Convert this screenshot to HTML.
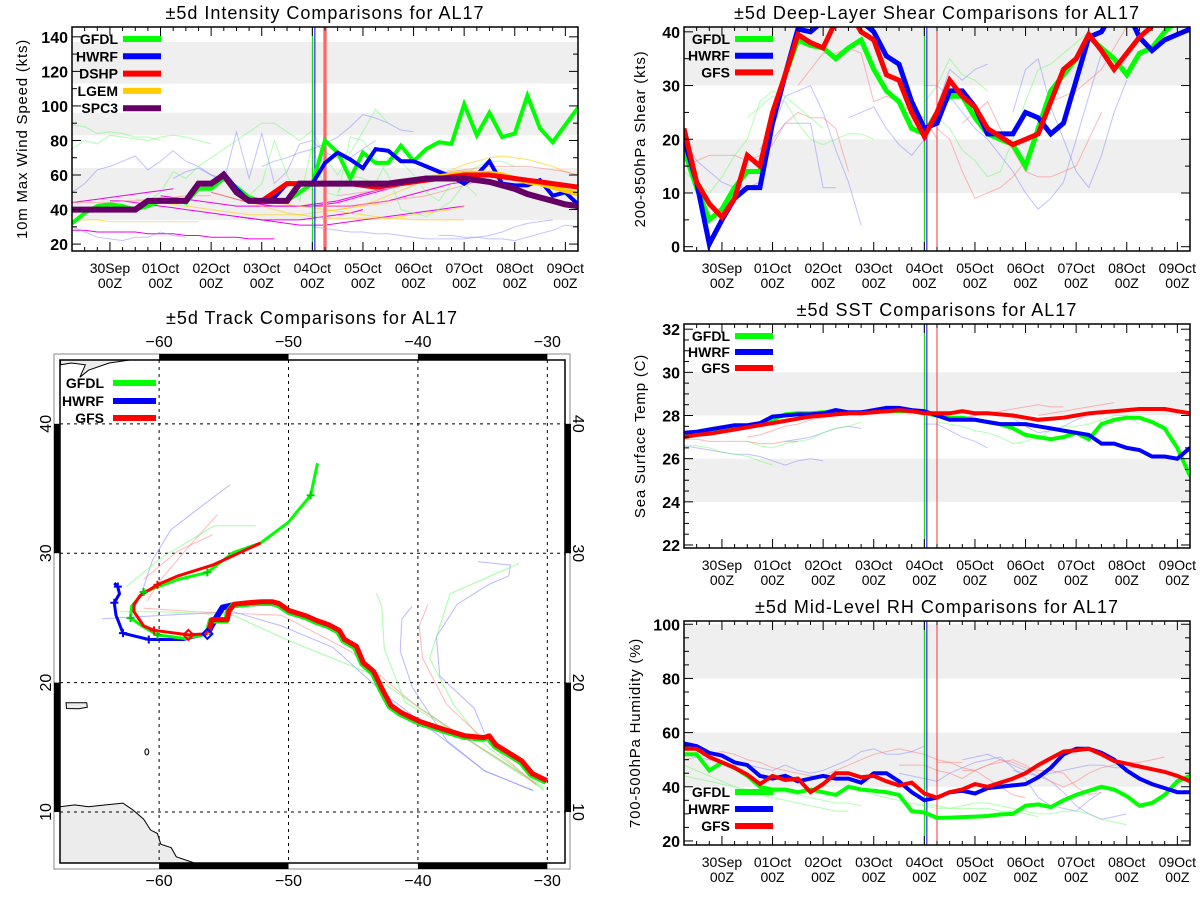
<!DOCTYPE html>
<html><head><meta charset="utf-8"><style>
html,body{margin:0;padding:0;background:#fff;}
svg{display:block;font-family:"Liberation Sans",sans-serif;}
</style></head><body>
<svg id="chart" width="1200" height="900" viewBox="0 0 1200 900" xmlns="http://www.w3.org/2000/svg"></svg>
<script>
// ---------- time grid: index i -> t = -0.75 + 0.25*i (days from 30Sep 00Z)
const dateLabels = ["30Sep","01Oct","02Oct","03Oct","04Oct","05Oct","06Oct","07Oct","08Oct","09Oct"];
// Intensity (kts)
const intTicks = [20,40,60,80,100,120,140];
const intGFDL = [32,38,42,43,42,40,42,45,46,44,52,52,58,53,47,45,45,45,50,55,80,73,58,73,67,67,77,68,75,79,78,101,83,96,82,84,106,87,79,89,99];
const intHWRF = [40,40,40,40,40,40,45,45,45,45,55,55,61,52,45,45,47,55,55,55,67,73,69,64,75,74,68,68,65,62,59,55,60,68,55,54,54,57,48,50,43];
const intDSHP = [40,40,40,40,40,40,45,45,45,45,55,55,60,50,45,45,50,55,55,55,55,55,55,54,53,54,55,56,57,58,59,60,60,60,59,58,57,56,55,54,53];
const intLGEM = [40,40,40,40,40,40,45,45,45,45,55,55,60,50,45,45,45,45,55,55,55,55,55,55,55,55,56,57,58,59,60,61,61,61,60,58,56,55,53,51,49];
const intSPC3 = [40,40,40,40,40,40,45,45,45,45,55,55,60,50,45,45,45,45,55,55,55,55,55,55,55,55,56,57,58,58,58,58,57,56,54,52,49,47,45,43,42];
const intThin = [
 {c:"#ee00ee",o:1,s:0,v:[44,45,46,47,48,49,50,51,52]},
 {c:"#ee00ee",o:1,s:3,v:[45,45,44,43,42,41,40,39,38,37,36,35,34,34,34,34,35,36,37,38,40]},
 {c:"#ee00ee",o:1,s:7,v:[48,47,46,45,44,43,42,42,42,42,42,42,43,44,45,47,49,51,53,55,56]},
 {c:"#ee00ee",o:1,s:11,v:[50,48,46,44,43,42,42,42,42,43,44,46,48,50,52,54,55,56,57,57,57]},
 {c:"#ee00ee",o:1,s:0,v:[28,28,27,27,27,27,26,26,26,25,25,24,24,24,23,23,23]},
 {c:"#ee00ee",o:1,s:13,v:[36,35,34,33,32,31,31,31,32,33,34,35,36,37,38,39,40,41,42]},
 {c:"#ee00ee",o:1,s:19,v:[42,42,42,42,43,44,45,47,49,51,53,55,56,56,56,55,54]},
 {c:"#ffcc00",o:.6,s:0,v:[34,34,34,33,33,33,33,33,33,33,33]},
 {c:"#ffcc00",o:.6,s:5,v:[46,45,44,43,42,41,40,39,38,37,37,37,37,37,38,39,40,41,42,43,44]},
 {c:"#ffcc00",o:.6,s:21,v:[40,41,43,45,48,51,54,57,60,63,66,68,70,71,70,69,67,65,62,60]},
 {c:"#ffcc00",o:.6,s:11,v:[50,48,46,44,42,40,38,37,36,35,35,35,35,35,35,36,37,38,39,40,42]},
 {c:"#ffcc00",o:.6,s:15,v:[45,44,43,42,41,40,39,38,37,36,35,35,34,34,34,34,34]},
 {c:"#ff8888",o:.6,s:21,v:[48,49,50,51,52,54,56,58,60,62,63,64,65,65,65,65,64,63,62,60]},
 {c:"#ff8888",o:.6,s:0,v:[44,44,44,44,45,45,46,47,47,48,48,48]},
 {c:"#ff8888",o:.6,s:19,v:[42,42,42,42,43,44,45,46,47,48,50,52,54,56,57,57,57,56,55,54]},
 {c:"#8888ff",o:.5,s:0,v:[50,55,63,65,68,71,63,68,74,68,65,60,58]},
 {c:"#8888ff",o:.5,s:0,v:[30,27,24,23,22,24,24,27,25,24]},
 {c:"#8888ff",o:.5,s:8,v:[58,62,64,60,56,85,58,84,55,62,78,80,73,70,70,75,80]},
 {c:"#8888ff",o:.5,s:15,v:[65,68,70,73,75,78,82,88,95,93,90,86,85]},
 {c:"#8888ff",o:.5,s:19,v:[30,29,28,27,27,26,26,25,24,23,23,23,23,24,25,27,30,32,33,34]},
 {c:"#8888ff",o:.5,s:29,v:[25,25,24,24,23,23,22,24,26,28,31,30]},
 {c:"#66ff66",o:.5,s:0,v:[75,80,78,83,82,81,80,82,83,82,80,78]},
 {c:"#66ff66",o:.5,s:0,v:[89,88,84,85,84,82,82,80]},
 {c:"#66ff66",o:.5,s:6,v:[45,50,62,58,65,70,75,80,85,90,90,85,80,86,70,60,73,85,98,90]},
 {c:"#66ff66",o:.5,s:14,v:[48,55,80,60,45,78,50,48,82,80,70,60,40,38,36,40,45,55,48]},
 {c:"#66ff66",o:.5,s:21,v:[50,60,58,55,70,68,60,50,45,55,60,65,68,68,65]}
];
// Shear (kts)
const shrTicks = [0,10,20,30,40];
const shrGFDL = [18,11,5,7,11,14,14,24,32,38.5,37.5,37,35,37,38.5,33,29,27,22,21,25,28,28,24,21,20,19,15,22,29,32,35,39,37,35,32,36,37,40,42,43];
const shrHWRF = [20,12,0.5,5,9,11,11,23,32,40.5,40,42,44,44,42,40,35.5,34,27,22,23,29,29,26,21,21,21,25,24,21,23,31,39,40,44,44,39,36.5,38.5,39.5,40.5];
const shrGFS  = [22,12,8,5.5,9,17,15,25,32,39.5,38,37,42,44,40,38.5,32,31,25,20.5,25,31,28,26,22,20.5,19,20,21,27,33,35,39.5,36.5,33,36,39,41,null,null,null];
const shrThin = [
 {c:"#8888ff",o:.5,s:0,v:[20,16,14,12,11,11,12,20,23,23,23,11,11]},
 {c:"#8888ff",o:.5,s:6,v:[18,22,28,29,30,25,18,12,4]},
 {c:"#8888ff",o:.5,s:13,v:[24,25,26,22,19,17,20]},
 {c:"#8888ff",o:.5,s:19,v:[30,30,28,25,22,20,17,14,10,7,9,12,20,28,36,34]},
 {c:"#8888ff",o:.5,s:26,v:[25,33,35,26,20,14,11,17,25,31]},
 {c:"#8888ff",o:.5,s:20,v:[26,33,31,33,34]},
 {c:"#66ff66",o:.5,s:0,v:[14,12,10,13,17,20,27,29,28,26,24,22]},
 {c:"#66ff66",o:.5,s:5,v:[24,26,28,27,23,20,19,20,21,21,20]},
 {c:"#66ff66",o:.5,s:19,v:[27,30,35,32,31,29]},
 {c:"#66ff66",o:.5,s:20,v:[24,22,18,16,13,14,20,27,33,34,36,38,40]},
 {c:"#ff8888",o:.6,s:0,v:[15,16,17,17,17,16,17,19,23,25,24,24,22,14]},
 {c:"#ff8888",o:.6,s:9,v:[30,33,36,36,37,36,27,28,27,25,24,20]},
 {c:"#ff8888",o:.6,s:20,v:[22,20,14,9,10,11,13,16,22,27,28,29,31,33,37,41]},
 {c:"#ff8888",o:.6,s:22,v:[23,25,27,22,18,14,13,13,14,15,20,25]}
];
// SST (C)
const sstTicks = [22,24,26,28,30,32];
const sstGFDL = [27.0,27.1,27.2,27.3,27.4,27.5,27.6,27.8,28.05,28.1,28.1,28.15,28.15,28.1,28.1,28.2,28.2,28.2,28.2,28.1,28.0,27.9,27.9,27.8,27.7,27.6,27.4,27.1,27.0,26.9,27.0,27.2,26.9,27.6,27.8,27.9,27.9,27.7,27.4,26.5,25.2];
const sstHWRF = [27.2,27.25,27.35,27.45,27.55,27.55,27.65,27.95,28.0,28.05,28.05,28.1,28.25,28.15,28.15,28.25,28.35,28.35,28.25,28.2,28.0,27.8,27.8,27.8,27.7,27.6,27.6,27.6,27.5,27.4,27.3,27.2,27.1,26.7,26.7,26.5,26.4,26.1,26.1,26.0,26.5];
const sstGFS  = [27.0,27.1,27.15,27.25,27.35,27.45,27.55,27.65,27.75,27.85,27.95,28.0,28.05,28.1,28.1,28.15,28.2,28.25,28.2,28.1,28.1,28.1,28.2,28.1,28.1,28.05,28.0,27.9,27.8,27.85,27.9,28.0,28.1,28.15,28.2,28.25,28.3,28.3,28.3,28.2,28.1];
const sstThin = [
 {c:"#8888ff",o:.5,s:0,v:[26.6,26.5,26.4,26.3,26.2,26.2,26.1,25.9,25.7,25.9,26.0,25.9]},
 {c:"#8888ff",o:.5,s:8,v:[26.8,26.9,27.0,27.2,27.4,27.5,27.4]},
 {c:"#8888ff",o:.5,s:19,v:[27.6,27.6,27.3,27.0,26.8,26.5]},
 {c:"#8888ff",o:.5,s:22,v:[27.8,28.0,28.1,28.1,27.9,27.5,27.2,27.3,27.5,27.8,28.0,28.1,28.2]},
 {c:"#66ff66",o:.5,s:0,v:[26.6,26.6,26.5,26.3,26.2,26.1,25.9,25.7]},
 {c:"#66ff66",o:.5,s:5,v:[26.8,26.6,26.5,26.7,26.8,26.9,27.2,27.4,27.5,27.7]},
 {c:"#66ff66",o:.5,s:20,v:[27.7,27.6,27.5,27.3,27.2,27.0,26.7,26.8,27.0,27.3,27.5,27.5,27.6,27.8,28.0,28.0,27.6]},
 {c:"#ff8888",o:.6,s:0,v:[26.9,26.9,26.8,26.8,26.8,26.8,26.7,26.7,26.8,26.8]},
 {c:"#ff8888",o:.6,s:5,v:[27.0,27.1,27.3,27.5,27.6,27.8,27.9,28.0,28.0]},
 {c:"#ff8888",o:.6,s:21,v:[27.8,27.9,28.0,28.1,28.2,28.3,28.4,28.5,28.4,28.4]},
 {c:"#ff8888",o:.6,s:28,v:[28.0,28.1,28.2,28.3,28.4,28.5,28.6]}
];
// RH (%)
const rhTicks = [20,40,60,80,100];
const rhGFDL = [52,52,46,49,47,44,40,39,39,38,39,38,37,40,39,38.5,38,37,31,30.5,28.5,28.6,28.8,29,29.2,29.8,30,33,33.5,32.5,35,37,38.5,40,39,36.5,33,34,37,42,44];
const rhHWRF = [56,55,52.5,51.5,49,48,44,43,44,42,43,44,43,43,41.5,45,45,42,38,35,36,38,38.5,37.5,39.5,40,40.5,41,43.5,47,52,54,54,52.5,50,46,43,41,39.5,38,38];
const rhGFS  = [54,54,51,49,47,44.5,41,44,42.5,43,38,41,45,45,43.5,44,42,40.5,41.5,37.5,36,38,39,41,40,41.5,43,45,48,50.5,53,53.5,54,52,49.5,48.5,47.5,46.5,45.5,44,42];
const rhThin = [
 {c:"#8888ff",o:.5,s:0,v:[52,51,50,49,48,48,47,46,48,46,45,46,48,50,53,54,52,52,53,55]},
 {c:"#8888ff",o:.5,s:17,v:[45,44,43,42,45,47,49,50,51,47,43,36,33,32,31,35,38]},
 {c:"#8888ff",o:.5,s:22,v:[50,51,52,50,48,46,44,42,38,33,30,28,29,30]},
 {c:"#8888ff",o:.5,s:26,v:[46,45,44,45,46,47,48,48,47,47,47]},
 {c:"#66ff66",o:.5,s:0,v:[48,46,44,42,40,38,37,36,35,34,33,32,31,31]},
 {c:"#66ff66",o:.5,s:0,v:[44,43,42,41,40,39,38,38,38,37,36,35,34,34,33]},
 {c:"#66ff66",o:.5,s:13,v:[40,39,37,36,35,34,33,32,32,32,32,32,31,31,30,29]},
 {c:"#66ff66",o:.5,s:19,v:[34,33,32,33,34,34,33,32,31,30,30,31,31,30,28,27,26]},
 {c:"#ff8888",o:.6,s:0,v:[50,51,52,53,52,50,49,47,46,45,44,44,46,48,50,52,53,54,53,52,50,49,49]},
 {c:"#ff8888",o:.6,s:17,v:[48,48,48,46,45,43,46,48,50,49,47,46,46,45,40,37,38]},
 {c:"#ff8888",o:.6,s:22,v:[46,46,48,49,50,48,45,42,40,42,45,47,48,49,49,50,51]},
 {c:"#ff8888",o:.6,s:20,v:[49,49,47,46,43,40,37,36]}
];
// Track (lon, lat)
const trkLonTicks = [-60,-50,-40,-30];
const trkLatTicks = [10,20,30,40];
const trkHistory = [[-30.11,12.35],[-31.25,12.9],[-32.05,13.87],[-34.05,15.11],[-34.58,15.81],[-34.98,15.67],[-36.44,15.81],[-38.04,16.3],[-39.9,16.91],[-41.37,17.6],[-42.17,18.16],[-42.83,19.4],[-43.5,20.78],[-44.3,21.47],[-44.83,22.72],[-45.76,23.27],[-46.16,23.96],[-46.96,24.38],[-47.89,24.71],[-48.69,25.07],[-50.02,25.48],[-50.82,26.04],[-51.35,26.17],[-52.15,26.17],[-53.21,26.09],[-54.28,25.98],[-54.68,25.48],[-54.81,24.79],[-56.01,24.79],[-56.27,23.77]];
const trkHistoryBlue = [[-30.11,12.35],[-31.25,12.9],[-32.05,13.87],[-34.05,15.11],[-34.58,15.81],[-34.98,15.67],[-36.44,15.81],[-38.04,16.3],[-39.9,16.91],[-41.37,17.6],[-42.17,18.16],[-42.83,19.4],[-43.5,20.78],[-44.3,21.47],[-44.83,22.72],[-45.76,23.27],[-46.16,23.96],[-46.96,24.38],[-47.89,24.71],[-48.69,25.07],[-50.02,25.48],[-50.82,26.04],[-51.35,26.17],[-52.15,26.17],[-53.21,26.09],[-54.28,25.98],[-55.1,25.8],[-55.6,25.0],[-56.0,24.3],[-56.27,23.77]];
const trkGFS = [[-56.27,23.77],[-57.74,23.69],[-60.4,24.04],[-61.2,24.38],[-61.94,25.48],[-61.94,26.04],[-61.46,26.73],[-60.13,27.56],[-58.54,28.25],[-55.87,29.08],[-52.15,30.79]];
const trkGFDL = [[-56.27,23.77],[-58.0,23.41],[-60.13,23.69],[-61.33,24.38],[-62.21,24.99],[-62.13,25.9],[-61.2,27.0],[-58.54,27.97],[-56.27,28.52],[-54.28,30.04],[-52.15,30.79],[-50.02,32.39],[-48.29,34.47],[-47.76,36.96]];
const trkHWRF = [[-56.27,23.77],[-58.14,23.33],[-60.8,23.33],[-62.79,23.82],[-63.33,25.21],[-63.46,26.17],[-63.06,26.86],[-63.19,27.42],[-63.46,27.69]];
const trkThin = [
 {c:"#8888ff",p:[[-62,25.5],[-61.2,27.4],[-60.5,29.5],[-59.1,31.8],[-56.5,33.8],[-54.5,35.3]]},
 {c:"#8888ff",p:[[-31.1,11.66],[-34.85,13.18],[-37.77,15.53],[-40.44,19.68],[-41.37,22.44],[-41.24,24.93],[-40.44,25.9]]},
 {c:"#8888ff",p:[[-34.85,16.08],[-35.65,18.02],[-38.31,20.5],[-38.57,23.55],[-36.98,26.04],[-34.58,27.56],[-32.98,28.25],[-32.85,29.08],[-35.38,29.35]]},
 {c:"#8888ff",p:[[-31.1,11.66],[-34.85,13.18],[-42.57,19.12],[-46.56,22.72],[-50.55,24.38],[-54.28,25.48],[-59.6,25.21],[-64.4,24.93]]},
 {c:"#66ff66",p:[[-30.26,11.66],[-34.85,15.25],[-37.24,18.29],[-39.1,21.89],[-37.51,26.86],[-32.19,29.21]]},
 {c:"#66ff66",p:[[-30.3,11.8],[-33,13.5],[-36.5,15.8],[-41,18.5],[-42.6,22.6],[-42.8,25.9],[-43.2,26.9]]},
 {c:"#66ff66",p:[[-30.3,11.94],[-37.77,16.64],[-43.9,20.78],[-50.02,23.27],[-54.28,25.21],[-59.6,25.48],[-63.06,25.48]]},
 {c:"#66ff66",p:[[-62.53,27.42],[-59.87,29.63],[-55.74,32.12],[-52.55,32.12]]},
 {c:"#ff8888",p:[[-30.85,12.07],[-35.11,15.81],[-37.77,18.29],[-39.64,21.89],[-39.9,24.38],[-39.24,26.04]]},
 {c:"#ff8888",p:[[-30.85,12.2],[-39.9,18.02],[-45.23,22.44],[-50.55,25.21],[-57.2,25.48],[-61.2,25.76]]},
 {c:"#ff8888",p:[[-61.2,27.97],[-58.54,30.18],[-55.87,31.43]]},
 {c:"#ff8888",p:[[-60.93,26.31],[-59.87,27.97],[-58.0,30.18],[-55.48,33.0]]}
];
const landNS = [[-67.64,44.97],[-62.0,44.97],[-63.86,44.7],[-65.46,44.14],[-66.12,43.6],[-65.7,44.56],[-66.8,44.7],[-67.6,44.56]];
const landPR = [[-67.2,18.45],[-65.6,18.45],[-65.55,18.1],[-66.2,17.98],[-67.15,18.0]];
const landSA = [[-67.66,10.41],[-66.52,10.55],[-65.46,10.41],[-64.13,10.55],[-62.79,10.69],[-62.0,10.14],[-61.2,9.45],[-60.67,8.62],[-60.13,8.34],[-59.87,7.51],[-59.07,7.24],[-58.67,6.54],[-57.47,6.13],[-57.3,6.06],[-67.66,6.06]];

// ---------- helpers
const NS = "http://www.w3.org/2000/svg";
const svg = document.getElementById("chart");
function mk(tag, attrs, parent){ const e=document.createElementNS(NS,tag); for(const k in attrs) e.setAttribute(k,attrs[k]); (parent||svg).appendChild(e); return e; }
function txt(x,y,s,size,anchor,parent,extra){ const e=mk("text",Object.assign({x:x,y:y,"font-size":size,"text-anchor":anchor||"middle",fill:"#000"},extra||{}),parent); e.textContent=s; return e; }
const tOf = i => -0.75 + 0.25*i;

function tsPanel(cfg){
  const g = mk("g",{});
  
  
  const left=cfg.left, right=cfg.left+506, top=cfg.top, bot=cfg.top+224;
  const X = t => left + (t+0.75)/10*(right-left);
  const Y = v => bot - (v-cfg.ymin)/(cfg.ymax-cfg.ymin)*(bot-top);
  cfg.bands.forEach(b=>{
    const r=mk("rect",{x:left,y:Y(Math.min(b[1],cfg.ymax)),width:right-left,height:Y(b[0])-Y(Math.min(b[1],cfg.ymax)),fill:"#efefef"},g);
    
    
  });
  const cid="clip"+cfg.name;
  const cp=mk("clipPath",{id:cid},g); mk("rect",{x:left,y:top,width:right-left,height:bot-top},cp);
  const pg=mk("g",{"clip-path":"url(#"+cid+")"},g);
  cfg.thin.forEach(s=>{
    const pts=s.v.map((v,k)=>X(tOf(s.s+k)).toFixed(1)+","+Y(v).toFixed(1)).join(" ");
    const p=mk("polyline",{points:pts,fill:"none",stroke:s.c,"stroke-opacity":s.o,"stroke-width":1},pg);
    
    
  });
  if(cfg.redBand){ mk("rect",{x:X(4.25)-2,y:top,width:4,height:bot-top,fill:"#ff9999"},pg); }
  const vg=mk("line",{x1:X(4),x2:X(4),y1:top,y2:bot,stroke:"#00cc00","stroke-width":1},pg);
   
  mk("line",{x1:X(4)+2.5,x2:X(4)+2.5,y1:top,y2:bot,stroke:"#0000ff","stroke-width":1},pg);
  const vr=mk("line",{x1:X(4.25),x2:X(4.25),y1:top,y2:bot,stroke:"#ff3333","stroke-width":1},pg);
   
  cfg.series.forEach(s=>{
    let d="",pen=false;
    s.v.forEach((v,i)=>{ if(v===null){pen=false;return;} d+=(pen?"L":"M")+X(tOf(i)).toFixed(1)+","+Y(v).toFixed(1); pen=true; });
    const p=mk("path",{d:d,fill:"none",stroke:s.c,"stroke-width":s.w||5,"stroke-linejoin":"miter"},pg);
    
    
  });
  mk("rect",{x:left,y:top,width:right-left,height:bot-top,fill:"none",stroke:"#000","stroke-width":1.5},g);
  for(let k=0;k<=40;k++){
    const t=tOf(k); const x=X(t); const major=Math.abs(t-Math.round(t))<1e-6;
    const len=major?9:4;
    mk("line",{x1:x,x2:x,y1:bot,y2:bot-len,stroke:"#000","stroke-width":1},g);
    mk("line",{x1:x,x2:x,y1:top,y2:top+len,stroke:"#000","stroke-width":1},g);
  }
  dateLabels.forEach((d,k)=>{
    const t1=txt(X(k),bot+22,d,14,"middle",g);  
    txt(X(k),bot+37,"00Z",14,"middle",g);
  });
  for(let v=cfg.ymin0; v<=cfg.ymax; v+=cfg.minor){
    const y=Y(v); const major=cfg.ticks.indexOf(v)>=0; const len=major?9:5;
    mk("line",{x1:left,x2:left+len,y1:y,y2:y,stroke:"#000"},g);
    mk("line",{x1:right,x2:right-len,y1:y,y2:y,stroke:"#000"},g);
  }
  cfg.ticks.forEach(v=>{ const t=txt(left-4,Y(v)+6,String(v),16,"end",g,{"font-weight":"bold"});   });
  const tt=txt((left+right)/2,top-8,cfg.title,18,"middle",g,{"letter-spacing":"1"});
   
  const yt=txt(0,0,cfg.ylabel,15,"middle",g,{transform:"translate("+(cfg.ylabX)+","+((top+bot)/2)+") rotate(-90)","letter-spacing":"0.8"});
   
  cfg.legend.forEach((l,k)=>{
    const y=cfg.legY+k*cfg.legDy;
    const lt=txt(cfg.legTextX,y+5,l[0],14,"end",g,{"font-weight":"bold"});
     
    mk("line",{x1:cfg.legX1,x2:cfg.legX2,y1:y,y2:y,stroke:l[1],"stroke-width":6},g);
  });
}

tsPanel({name:"intensity-panel",left:72,top:27,ymin:16,ymax:145.7,ymin0:20,minor:10,ticks:intTicks,
 bands:[[34,64],[83,96],[113,137]],thin:intThin,redBand:true,
 series:[{key:"gfdl",c:"#00ff00",v:intGFDL,w:4},{key:"hwrf",c:"#0000ff",v:intHWRF,w:4},{key:"lgem",c:"#ffcc00",v:intLGEM,w:5},{key:"dshp",c:"#ff0000",v:intDSHP,w:5},{key:"spc3",c:"#660066",v:intSPC3,w:6}],
 title:"±5d Intensity Comparisons for AL17",ylabel:"10m Max Wind Speed (kts)",ylabX:27,
 legend:[["GFDL","#00ff00"],["HWRF","#0000ff"],["DSHP","#ff0000"],["LGEM","#ffcc00"],["SPC3","#660066"]],
 legY:39,legDy:17.3,legTextX:118,legX1:123,legX2:161});
tsPanel({name:"shear-panel",left:684,top:27,ymin:-0.8,ymax:40.9,ymin0:0,minor:5,ticks:shrTicks,
 bands:[[10,20],[30,41]],thin:shrThin,redBand:false,
 series:[{key:"gfdl",c:"#00ff00",v:shrGFDL},{key:"hwrf",c:"#0000ff",v:shrHWRF},{key:"gfs",c:"#ff0000",v:shrGFS}],
 title:"±5d Deep-Layer Shear Comparisons for AL17",ylabel:"200-850hPa Shear (kts)",ylabX:645,
 legend:[["GFDL","#00ff00"],["HWRF","#0000ff"],["GFS","#ff0000"]],
 legY:39,legDy:16.7,legTextX:730,legX1:735,legX2:773});
tsPanel({name:"sst-panel",left:684,top:324,ymin:21.86,ymax:32.24,ymin0:22,minor:0.5,ticks:sstTicks,
 bands:[[24,26],[28,30]],thin:sstThin,redBand:false,
 series:[{key:"gfdl",c:"#00ff00",v:sstGFDL,w:4},{key:"hwrf",c:"#0000ff",v:sstHWRF,w:4},{key:"gfs",c:"#ff0000",v:sstGFS,w:4}],
 title:"±5d SST Comparisons for AL17",ylabel:"Sea Surface Temp (C)",ylabX:645,
 legend:[["GFDL","#00ff00"],["HWRF","#0000ff"],["GFS","#ff0000"]],
 legY:336,legDy:16,legTextX:730,legX1:735,legX2:773});
tsPanel({name:"rh-panel",left:684,top:621,ymin:18.5,ymax:101.2,ymin0:20,minor:5,ticks:rhTicks,
 bands:[[40,60],[80,100]],thin:rhThin,redBand:false,
 series:[{key:"gfdl",c:"#00ff00",v:rhGFDL,w:4},{key:"hwrf",c:"#0000ff",v:rhHWRF,w:4},{key:"gfs",c:"#ff0000",v:rhGFS,w:4}],
 title:"±5d Mid-Level RH Comparisons for AL17",ylabel:"700-500hPa Humidity (%)",ylabX:640,
 legend:[["GFDL","#00ff00"],["HWRF","#0000ff"],["GFS","#ff0000"]],
 legY:792,legDy:17,legTextX:730,legX1:735,legX2:773});

// ---------- Track map
(function(){
  const g=mk("g",{});
  
  
  const left=60,right=565,top=360,bot=863;
  const lonMin=-67.66, latMin=6.06, sc=12.94;
  const PX = lon => left + (lon-lonMin)*sc;
  const PY = lat => bot - (lat-latMin)*sc;
  const pts = arr => arr.map(p=>PX(p[0]).toFixed(1)+","+PY(p[1]).toFixed(1)).join(" ");
  const tt=txt(312,324,"±5d Track Comparisons for AL17",18,"middle",g,{"letter-spacing":"1"});
   
  mk("rect",{x:54,y:354,width:516,height:515,fill:"#fff",stroke:"#888","stroke-width":1},g);
  [[-60,-50],[-40,-30]].forEach(r=>{
    mk("rect",{x:PX(r[0]),y:354,width:PX(r[1])-PX(r[0]),height:6,fill:"#000"},g);
    mk("rect",{x:PX(r[0]),y:bot,width:PX(r[1])-PX(r[0]),height:6,fill:"#000"},g);
  });
  [[30,40],[10,20]].forEach(r=>{
    mk("rect",{x:54,y:PY(r[1]),width:6,height:PY(r[0])-PY(r[1]),fill:"#000"},g);
    mk("rect",{x:right,y:PY(r[1]),width:6,height:PY(r[0])-PY(r[1]),fill:"#000"},g);
  });
  const cp=mk("clipPath",{id:"clipmap"},g); mk("rect",{x:left,y:top,width:right-left,height:bot-top},cp);
  const pg=mk("g",{"clip-path":"url(#clipmap)"},g);
  [landNS,landPR,landSA].forEach(l=>{
    const p=mk("polygon",{points:pts(l),fill:"#ececec",stroke:"#000","stroke-width":1},pg);
     
  });
  mk("ellipse",{cx:PX(-60.95),cy:PY(14.65),rx:2,ry:3,fill:"#ececec",stroke:"#000","stroke-width":1},pg);
  trkLonTicks.forEach(l=>mk("line",{x1:PX(l),x2:PX(l),y1:top,y2:bot,stroke:"#000","stroke-dasharray":"3,4","stroke-width":1},pg));
  trkLatTicks.forEach(l=>mk("line",{x1:left,x2:right,y1:PY(l),y2:PY(l),stroke:"#000","stroke-dasharray":"3,4","stroke-width":1},pg));
  trkThin.forEach(s=>{
    const p=mk("polyline",{points:pts(s.p),fill:"none",stroke:s.c,"stroke-opacity":0.6,"stroke-width":1},pg);
     
  });
  const drawTrack=(arr,c,w,name)=>{ const p=mk("polyline",{points:pts(arr),fill:"none",stroke:c,"stroke-width":w,"stroke-linejoin":"round"},pg);   };
  drawTrack(trkHistoryBlue,"#0000ff",6,"hwrf-history-track");
  drawTrack(trkHistory,"#00ff00",6,"gfdl-history-track");
  drawTrack(trkHistory.map(p=>[p[0]+0.08,p[1]+0.08]),"#ff0000",5,"gfs-history-track");
  drawTrack(trkHWRF,"#0000ff",3,"hwrf-forecast-track");
  drawTrack(trkGFDL,"#00ff00",3,"gfdl-forecast-track");
  drawTrack(trkGFS,"#ff0000",3,"gfs-forecast-track");
  const plus=(p,c)=>{ const x=PX(p[0]),y=PY(p[1]); mk("path",{d:`M${x-4},${y}H${x+4}M${x},${y-4}V${y+4}`,stroke:c,"stroke-width":2},pg); };
  [trkHWRF[2],trkHWRF[3],trkHWRF[5],trkHWRF[7]].forEach(p=>plus(p,"#0000ff"));
  [trkGFDL[2],trkGFDL[4],trkGFDL[6],trkGFDL[8],trkGFDL[12]].forEach(p=>plus(p,"#00cc00"));
  [trkGFS[2],trkGFS[7]].forEach(p=>plus(p,"#ff0000"));
  const dia=(p,c)=>{ const x=PX(p[0]),y=PY(p[1]); mk("path",{d:`M${x},${y-5}L${x+5},${y}L${x},${y+5}L${x-5},${y}Z`,fill:"none",stroke:c,"stroke-width":2},pg); };
  dia(trkGFS[1],"#ff0000"); dia(trkHWRF[0],"#0000ff");
  mk("rect",{x:left,y:top,width:right-left,height:bot-top,fill:"none",stroke:"#000","stroke-width":1.5},g);
  trkLonTicks.forEach(l=>{
    const a=txt(PX(l),347,"−"+Math.abs(l),16,"middle",g);  
    txt(PX(l),886,"−"+Math.abs(l),16,"middle",g);
  });
  trkLatTicks.forEach(l=>{
    const a=txt(0,0,String(l),16,"middle",g,{transform:`translate(51,${PY(l)}) rotate(-90)`});  
    txt(0,0,String(l),16,"middle",g,{transform:`translate(573,${PY(l)}) rotate(90)`});
  });
  [["GFDL","#00ff00",383],["HWRF","#0000ff",401],["GFS","#ff0000",418]].forEach(l=>{
    const t=txt(104,l[2]+5,l[0],14,"end",g,{"font-weight":"bold"});  
    mk("line",{x1:113,x2:156,y1:l[2],y2:l[2],stroke:l[1],"stroke-width":6},g);
  });
})();
</script>
</body></html>
